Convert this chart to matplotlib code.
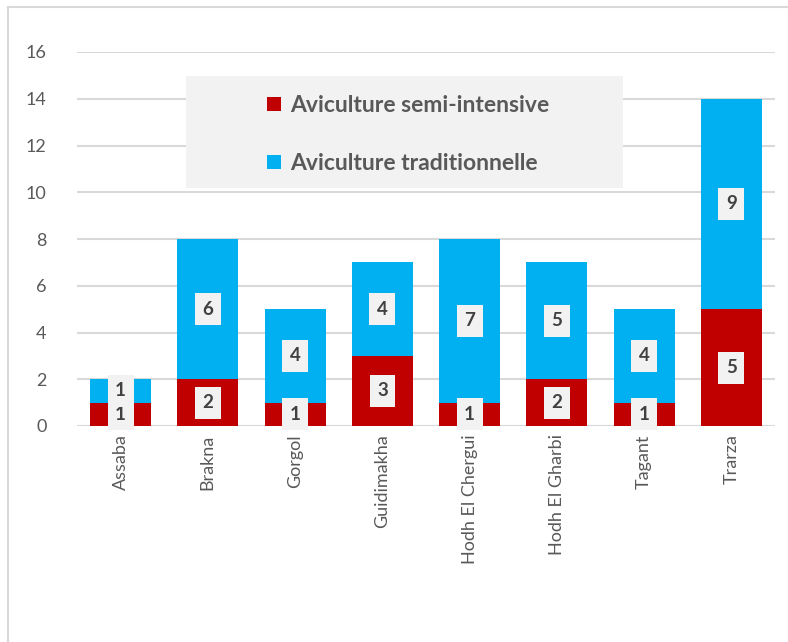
import numpy as np
import matplotlib.pyplot as plt
from matplotlib.lines import Line2D
from matplotlib.patches import Rectangle

# data
regions = ['Assaba', 'Brakna', 'Gorgol', 'Guidimakha', 'Hodh El Chergui',
           'Hodh El Gharbi', 'Tagant', 'Trarza']
semi_intensive = [1, 2, 1, 3, 1, 2, 1, 5]
traditionnelle = [1, 6, 4, 4, 7, 5, 4, 9]

red = '#c00000'
blue = '#00b0f0'
grey_txt = '#595959'

plt.rcParams['font.family'] = ['Lato', 'DejaVu Sans']

fig = plt.figure(figsize=(7.88, 6.42), dpi=100)
ax = fig.add_axes([77 / 788, 1 - 426 / 642, (775 - 77) / 788, (426 - 52) / 642])

x = np.arange(len(regions))
ax.bar(x, semi_intensive, width=0.7, color=red, label='Aviculture semi-intensive', zorder=3)
ax.bar(x, traditionnelle, width=0.7, bottom=semi_intensive, color=blue,
       label='Aviculture traditionnelle', zorder=3)

# data labels in light boxes
for i in range(len(regions)):
    for val, base in ((semi_intensive[i], 0), (traditionnelle[i], semi_intensive[i])):
        ax.text(x[i], base + val / 2, str(val), ha='center', va='center',
                fontsize=13.5, fontweight='bold', color='#404040', zorder=4,
                bbox=dict(boxstyle='square,pad=0.4', facecolor='#f2f2f2', edgecolor='none'))

ax.set_xlim(-0.5, len(regions) - 0.5)
ax.set_ylim(0, 16)
ax.set_yticks(range(0, 17, 2))
ax.set_xticks(x)
ax.set_xticklabels(regions, rotation=90)
ax.tick_params(axis='both', length=0, labelsize=13, colors=grey_txt)
ax.tick_params(axis='y', pad=22)
ax.tick_params(axis='x', pad=6)
ax.grid(axis='y', color='#d9d9d9', linewidth=1.5, zorder=0)
for s in ax.spines.values():
    s.set_visible(False)

# legend box drawn behind, legend itself frameless
ax.add_patch(Rectangle(((186 - 77) / 698, 1 - (188 - 52) / 374), (623 - 186) / 698, (188 - 76) / 374,
                       transform=ax.transAxes, facecolor='#f2f2f2', edgecolor='none', zorder=5))
leg = ax.legend(loc='upper left', bbox_to_anchor=((267 - 77) / 698, 1 - (95 - 52) / 374),
                frameon=False, handlelength=0.6, handleheight=0.6, handletextpad=0.4,
                labelspacing=1.62, borderpad=0, borderaxespad=0,
                prop={'weight': 'bold', 'size': 16.5})
leg.set_zorder(6)
for t in leg.get_texts():
    t.set_color(grey_txt)

# outer chart border (left and top visible)
fig.add_artist(Line2D([8 / 788, 8 / 788], [0, 1 - 7 / 642], color='#d9d9d9', linewidth=1.5))
fig.add_artist(Line2D([8 / 788, 1], [1 - 7 / 642, 1 - 7 / 642], color='#d9d9d9', linewidth=1.5))

fig.savefig('out.png', dpi=100)
